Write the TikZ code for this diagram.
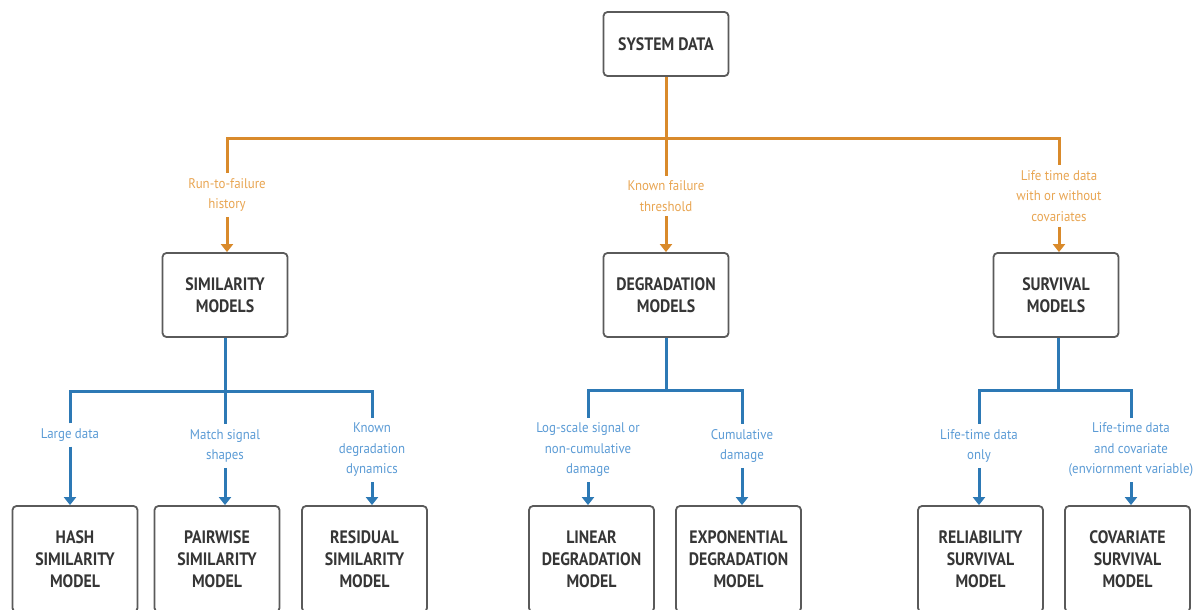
\documentclass[tikz,border=0pt]{standalone}
\usepackage{fontspec}
\setmainfont{PT Sans}
\newfontfamily\bxfont{PT Sans}[FakeStretch=0.88]
\newfontfamily\lbfont{PT Sans}[FakeStretch=0.92]
\usetikzlibrary{arrows.meta}
\definecolor{orline}{HTML}{D98A2B}
\definecolor{ortext}{HTML}{E8A552}
\definecolor{blline}{HTML}{2D79B5}
\definecolor{bltext}{HTML}{5B9BD5}
\definecolor{boxgray}{HTML}{5A5A5A}
\definecolor{boxtext}{HTML}{363636}
\begin{document}
\begin{tikzpicture}[x=1pt,y=-1pt,
  box/.style={draw=boxgray, line width=1.8pt, rounded corners=4pt, fill=white,
    minimum width=125pt, align=center, text=boxtext,
    font=\bxfont\bfseries\fontsize{18}{22}\selectfont},
  topbox/.style={box, minimum height=64pt},
  midbox/.style={box, minimum height=84pt},
  botbox/.style={box, minimum height=106pt},
  lab/.style={align=center, inner xsep=2pt, inner ysep=5pt,
    font=\lbfont\fontsize{14}{20.5}\selectfont},
  olabel/.style={lab, text=ortext},
  blabel/.style={lab, text=bltext},
  oline/.style={draw=orline, line width=3pt, line join=miter},
  bline/.style={draw=blline, line width=3pt, line join=miter},
  oarrow/.style={oline, -{Triangle[width=12pt,length=8pt]}},
  barrow/.style={bline, -{Triangle[width=12pt,length=8pt]}}
]
\useasboundingbox (0,0) rectangle (1203,610);
\clip (0,0) rectangle (1203,610);

% boxes
\node[topbox] (sys) at (666,44) {SYSTEM DATA};
\node[midbox] (sim) at (225,295) {SIMILARITY\\MODELS};
\node[midbox] (deg) at (666,295) {DEGRADATION\\MODELS};
\node[midbox] (sur) at (1056,295) {SURVIVAL\\MODELS};

\node[botbox] (hash) at (75,559) {HASH\\SIMILARITY\\MODEL};
\node[botbox] (pair) at (217,559) {PAIRWISE\\SIMILARITY\\MODEL};
\node[botbox] (res) at (364.5,559) {RESIDUAL\\SIMILARITY\\MODEL};
\node[botbox] (lin) at (591.5,559) {LINEAR\\DEGRADATION\\MODEL};
\node[botbox] (exp) at (738.5,559) {EXPONENTIAL\\DEGRADATION\\MODEL};
\node[botbox] (rel) at (980.5,559) {RELIABILITY\\SURVIVAL\\MODEL};
\node[botbox] (cov) at (1127.5,559) {COVARIATE\\SURVIVAL\\MODEL};

% orange labels
\node[olabel] (lrun) at (227,195) {Run-to-failure\\history};
\node[olabel] (lknown) at (666,196) {Known failure\\threshold};
\node[olabel] (llife) at (1059,196) {Life time data\\with or without\\covariates};

% blue labels
\node[blabel] (llarge) at (70,435) {Large data};
\node[blabel] (lmatch) at (225,446) {Match signal\\shapes};
\node[blabel] (lkdd) at (372,450) {Known\\degradation\\dynamics};
\node[blabel] (llog) at (588,450) {Log-scale signal or\\non-cumulative\\damage};
\node[blabel] (lcum) at (742,446) {Cumulative\\damage};
\node[blabel] (lonly) at (979,446) {Life-time data\\only};
\node[blabel] (lcov) at (1131,450) {Life-time data\\and covariate\\(enviornment variable)};

% junctions
\coordinate (oL) at (227,138);
\coordinate (oR) at (1059,138);
\coordinate (sL) at (70,391);
\coordinate (sR) at (372,391);
\coordinate (dM) at (666,390);
\coordinate (dL) at (588,390);
\coordinate (dR) at (742,390);
\coordinate (vM) at (1058,390);
\coordinate (vL) at (979,390);
\coordinate (vR) at (1131,390);

% orange connectors
\draw[oline] (sys.south) -- (lknown.north);
\draw[oline] (lrun.north) -- (oL) -- (oR) -- (llife.north);
\draw[oarrow] (lrun.south) -- (lrun.south |- sim.north);
\draw[oarrow] (lknown.south) -- (lknown.south |- deg.north);
\draw[oarrow] (llife.south) -- (llife.south |- sur.north);

% blue connectors: similarity
\draw[bline] (sim.south) -- (lmatch.north);
\draw[bline] (llarge.north) -- (sL) -- (sR) -- (lkdd.north);
\draw[barrow] (llarge.south) -- (llarge.south |- hash.north);
\draw[barrow] (lmatch.south) -- (lmatch.south |- pair.north);
\draw[barrow] (lkdd.south) -- (lkdd.south |- res.north);

% degradation
\draw[bline] (deg.south) -- (dM);
\draw[bline] (llog.north) -- (dL) -- (dR) -- (lcum.north);
\draw[barrow] (llog.south) -- (llog.south |- lin.north);
\draw[barrow] (lcum.south) -- (lcum.south |- exp.north);

% survival
\draw[bline] (vM |- sur.south) -- (vM);
\draw[bline] (lonly.north) -- (vL) -- (vR) -- (lcov.north);
\draw[barrow] (lonly.south) -- (lonly.south |- rel.north);
\draw[barrow] (lcov.south) -- (lcov.south |- cov.north);
\end{tikzpicture}
\end{document}
